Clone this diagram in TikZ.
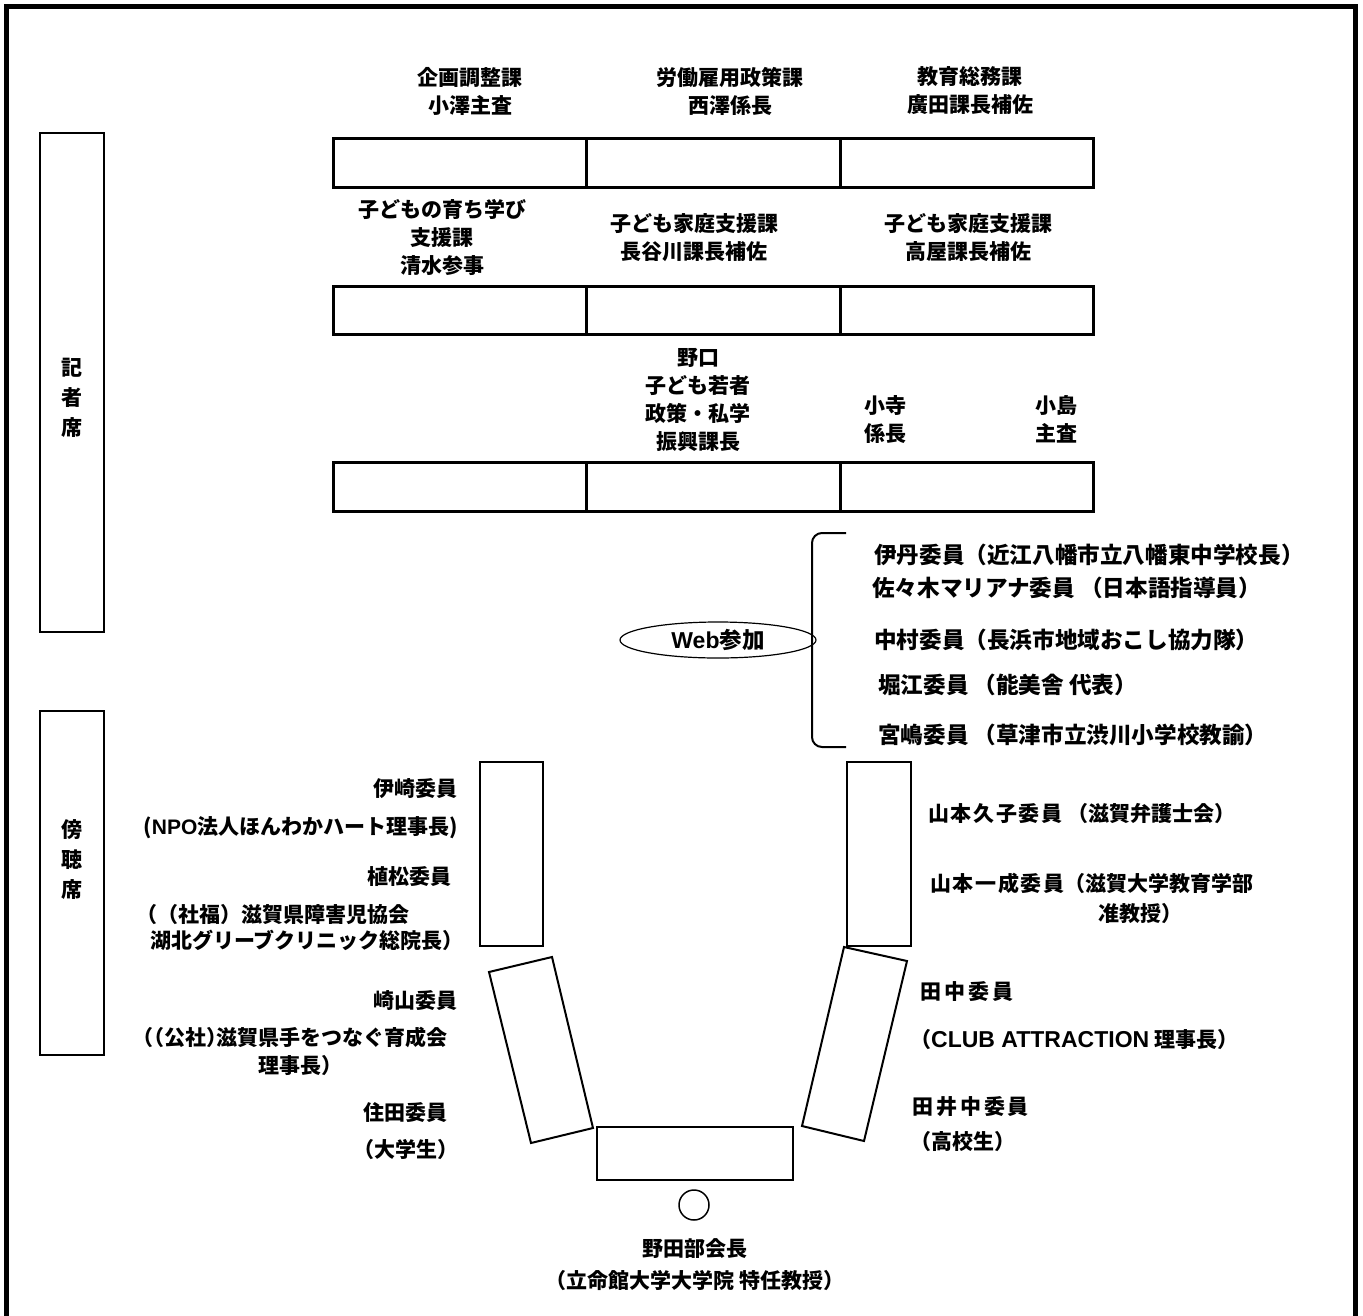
\documentclass[tikz,border=0pt]{standalone}
\usepackage{fontspec}
\setmainfont{Noto Sans CJK JP}
\newfontfamily\lat{Liberation Sans}
\usetikzlibrary{shapes.geometric}
\begin{document}
\begin{tikzpicture}[x=1pt,y=-1pt,
  lbl/.style={font=\fontsize{21}{28}\selectfont\bfseries, inner sep=0pt, align=center},
  lft/.style={lbl, anchor=west, align=left},
  rgt/.style={lbl, anchor=east, align=right},
  webm/.style={lft, font=\fontsize{22.6}{28}\selectfont\bfseries},
  wide/.style={font=\fontsize{21}{28}\selectfont\bfseries\addfontfeatures{LetterSpace=14}},
  tbl/.style={draw, line width=3pt},
  seat/.style={draw, line width=2pt, line join=miter},
  frame/.style={draw, line width=5pt},
]
\useasboundingbox (0,0) rectangle (1363,1315);
\draw[frame] (6,1316) -- (6,6) -- (1355,6) -- (1355,1316);

% side areas
\node[seat, minimum width=64pt, minimum height=499pt, inner sep=0pt] (press) at (72,382) {};
\node[lbl, font=\fontsize{21}{30}\selectfont\bfseries] (presst) at (72,398) {記\\者\\席};
\node[seat, minimum width=64pt, minimum height=344pt, inner sep=0pt] (aud) at (72,883) {};
\node[lbl, font=\fontsize{21}{30}\selectfont\bfseries] (audt) at (72,860) {傍\\聴\\席};

% tables
\draw[tbl] (333,138) rectangle (1093,187);
\draw[tbl] (586,138) -- (586,187) (840,138) -- (840,187);
\draw[tbl] (333,286) rectangle (1093,334);
\draw[tbl] (586,286) -- (586,334) (840,286) -- (840,334);
\draw[tbl] (333,462) rectangle (1093,511);
\draw[tbl] (586,462) -- (586,511) (840,462) -- (840,511);

% row 1 labels
\node[lbl] (a1) at (470,91) {企画調整課\\小澤主査};
\node[lbl] (a2) at (730,91) {労働雇用政策課\\西澤係長};
\node[lbl] (a3) at (970,91) {教育総務課\\廣田課長補佐};
% row 2 labels
\node[lbl] (b1) at (442,237) {子どもの育ち学び\\支援課\\清水参事};
\node[lbl] (b2) at (694,238) {子ども家庭支援課\\長谷川課長補佐};
\node[lbl] (b3) at (968,238) {子ども家庭支援課\\高屋課長補佐};
% row 3 labels
\node[lbl] (c1) at (698,400) {野口\\子ども若者\\政策・私学\\振興課長};
\node[lbl] (c2) at (885,419) {小寺\\係長};
\node[lbl] (c3) at (1056,419) {小島\\主査};

% web participants
\node[draw, line width=1.2pt, ellipse, minimum width=196pt, minimum height=36pt, inner sep=0pt] (web) at (718,640) {};
\node[lbl, font=\fontsize{22.5}{28}\selectfont\bfseries] (webt) at (web) {{\lat\fontsize{23}{28}\selectfont Web}参加};
\coordinate (brt) at (846,533);
\coordinate (brb) at (846,747);
\draw[line width=2pt, rounded corners=10pt] (brt) -- (812,533) -- (812,747) -- (brb);
\node[webm] (w1) at (874,555) {伊丹委員（近江八幡市立八幡東中学校長）};
\node[webm] (w2) at (872,588) {佐々木マリアナ委員\ （日本語指導員）};
\node[webm] (w3) at (874,640) {中村委員（長浜市地域おこし協力隊）};
\node[webm] (w4) at (878,685) {堀江委員\ （能美舎 代表）};
\node[webm] (w5) at (878,735) {宮嶋委員\ （草津市立渋川小学校教諭）};

% seats
\draw[seat] (480,762) rectangle (543,946);
\draw[seat] (847,762) rectangle (911,946);
\draw[seat] (489,972) -- (552,957) -- (593,1128) -- (531,1143) -- cycle;
\draw[seat] (844,947) -- (907,961) -- (864,1141) -- (802,1126) -- cycle;
\draw[seat] (597,1127) rectangle (793,1180);
\node[draw, line width=1.5pt, ellipse, minimum width=30pt, minimum height=30pt, inner sep=0pt] (chair) at (694,1205) {};

% left members
\node[rgt] (l1) at (458,789) {伊崎委員};
\node[rgt] (l1d) at (458,828) {({\lat NPO}法人ほんわかハート理事長)};
\node[rgt] (l2) at (452,877) {植松委員};
\node[lft] (l2d) at (136,915) {（（社福）滋賀県障害児協会};
\node[lft] (l2e) at (150,940) {湖北グリーブクリニック総院長）};
\node[rgt] (l3) at (458,1001) {崎山委員};
\node[lft, font=\fontsize{21}{28}\selectfont\bfseries\addfontfeatures{RawFeature=+halt}] (l3d) at (143,1037) {（（公社）滋賀県手をつなぐ育成会};
\node[lbl] (l3e) at (300,1066) {理事長）};
\node[lbl] (l4) at (405,1113) {住田委員};
\node[lbl] (l4d) at (406,1150) {（大学生）};

% right members
\node[lft] (r1) at (928,814) {{\addfontfeatures{LetterSpace=8}山本久子委員}\ （滋賀弁護士会）};
\node[lft] (r2) at (930,883) {{\addfontfeatures{LetterSpace=8}山本一成委員}（滋賀大学教育学部};
\node[lbl] (r2d) at (1140,914) {准教授）};
\node[lft, wide] (r3) at (920,992) {田中委員};
\node[lft] (r3d) at (910,1040) {（{\lat\fontsize{23}{28}\selectfont\bfseries CLUB ATTRACTION} 理事長）};
\node[lft, wide] (r4) at (912,1107) {田井中委員};
\node[lft] (r4d) at (910,1142) {（高校生）};

% chair
\node[lbl] (ch) at (695,1249) {野田部会長};
\node[lbl] (chd) at (695,1281) {（立命館大学大学院 特任教授）};
\end{tikzpicture}
\end{document}
